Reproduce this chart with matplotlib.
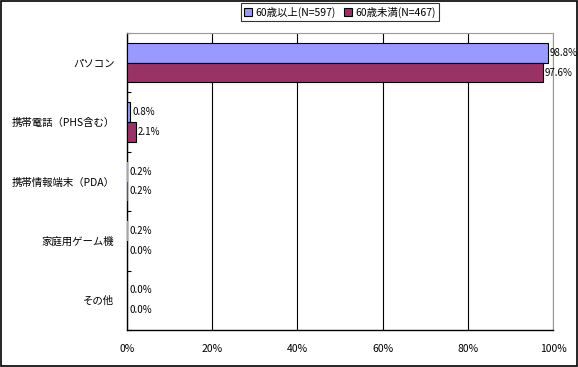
import numpy as np
import matplotlib.pyplot as plt
from matplotlib.patches import Rectangle

plt.rcParams['font.family'] = ['Noto Sans CJK JP', 'DejaVu Sans']

categories = ["パソコン", "携帯電話（PHS含む）", "携帯情報端末（PDA）", "家庭用ゲーム機", "その他"]
series_names = ["60歳以上(N=597)", "60歳未満(N=467)"]
over60 = [98.8, 0.8, 0.2, 0.2, 0.0]
under60 = [97.6, 2.1, 0.2, 0.0, 0.0]
colors = ["#9999ff", "#993366"]

fig = plt.figure(figsize=(5.78, 3.67), dpi=100)
ax = fig.add_axes([127 / 578, 1 - 330 / 367, 426 / 578, 297 / 367])

y = np.arange(len(categories))
h = 0.33
for i, (vals, off) in enumerate(((over60, -h / 2), (under60, h / 2))):
    # hairline bars (<0.5%) show no outline in the original
    lw = [0.8 if v >= 0.5 else 0 for v in vals]
    bars = ax.barh(y + off, vals, height=h, color=colors[i], edgecolor="black", linewidth=lw,
                   label=series_names[i], zorder=3)
    for b, v in zip(bars, vals):
        ax.text(v + 0.5, b.get_y() + b.get_height() / 2, f"{v:.1f}%", va="center", ha="left",
                fontsize=7, zorder=4)

ax.set_xlim(0, 100)
ax.set_ylim(len(categories) - 0.5, -0.5)
ax.set_xticks(np.arange(0, 101, 20))
ax.set_xticklabels([f"{t}%" for t in range(0, 101, 20)], fontsize=7.5)
ax.tick_params(axis="x", length=0, pad=10)
ax.set_yticks(y)
ax.set_yticklabels(categories, fontsize=7.5)
ax.tick_params(axis="y", length=0, pad=9)
ax.set_yticks(np.arange(-0.5, len(categories), 1), minor=True)
ax.tick_params(axis="y", which="minor", direction="in", length=3, width=0.8)
ax.xaxis.grid(True, color="black", linewidth=0.8, zorder=0)
for s in ("top", "right"):
    ax.spines[s].set_color("#999999")
for s in ("left", "bottom"):
    ax.spines[s].set_linewidth(1)

leg = fig.legend(loc="center", bbox_to_anchor=(340 / 578, 1 - 12 / 367), ncol=2, fontsize=7.5,
                 frameon=True, fancybox=False, edgecolor="black", handlelength=0.8,
                 handleheight=0.8, handletextpad=0.3, columnspacing=0.8, borderpad=0.3)
leg.get_frame().set_linewidth(0.8)

fig.patches.append(Rectangle((0.001, 0.002), 0.997, 0.996, transform=fig.transFigure,
                             fill=False, edgecolor="black", linewidth=1.2))

fig.savefig("out.png", dpi=100)
